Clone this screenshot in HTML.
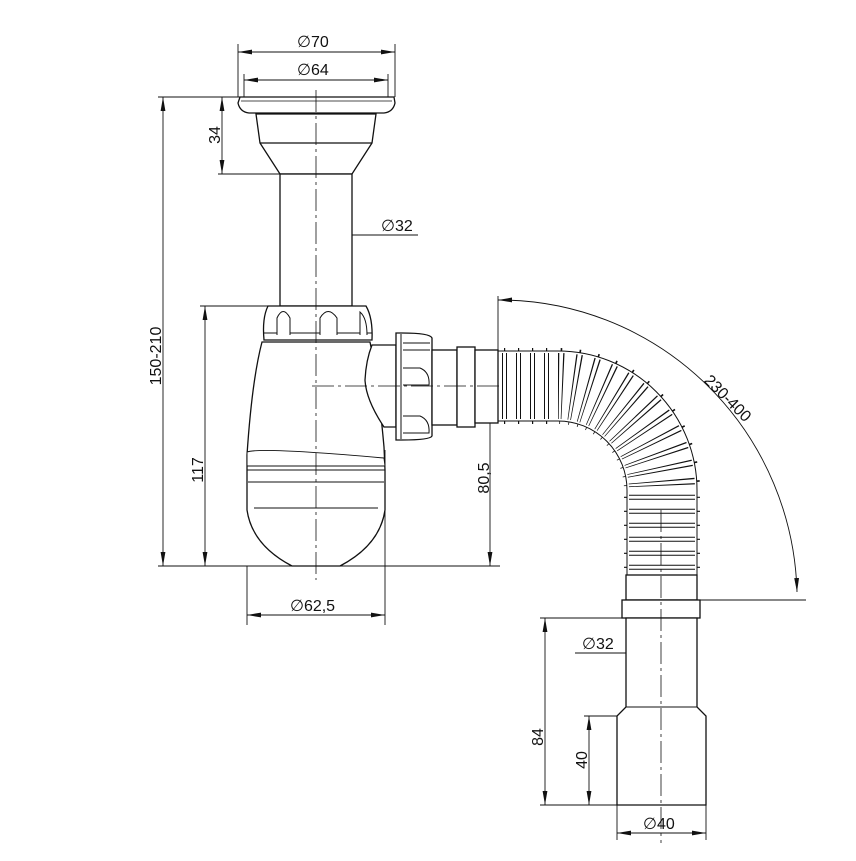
<!DOCTYPE html>
<html><head><meta charset="utf-8"><style>
html,body{margin:0;padding:0;background:#fff}
svg{display:block}
text{font-family:"Liberation Sans",sans-serif;font-size:16px;fill:#111}
</style></head><body>
<svg width="856" height="861" viewBox="0 0 856 861" xmlns="http://www.w3.org/2000/svg">
<defs>
<marker id="a" viewBox="0 0 14 6" refX="14" refY="3" markerWidth="14" markerHeight="6" markerUnits="userSpaceOnUse" orient="auto-start-reverse"><path d="M0,0.6 L14,3 L0,5.4 Z" fill="#111"/></marker>
</defs>
<g fill="none" stroke="#111" stroke-width="0.9">
<line x1="238" y1="44" x2="238" y2="97"/><line x1="395" y1="44" x2="395" y2="97"/>
<line x1="244" y1="74" x2="244" y2="97"/><line x1="388" y1="74" x2="388" y2="97"/>
<line x1="158" y1="97" x2="240" y2="97"/>
<line x1="218" y1="174" x2="280" y2="174"/>
<line x1="200" y1="306" x2="268" y2="306"/>
<line x1="158" y1="566" x2="500" y2="566"/>
<line x1="247" y1="566" x2="247" y2="625"/><line x1="385" y1="450" x2="385" y2="625"/>
<line x1="498" y1="296" x2="498" y2="350"/>
<line x1="486" y1="386" x2="498" y2="386"/>
<line x1="700" y1="600" x2="806" y2="600"/>
<line x1="540" y1="618" x2="622" y2="618"/>
<line x1="540" y1="805" x2="617" y2="805"/>
<line x1="584" y1="716" x2="617" y2="716"/>
<line x1="617" y1="805" x2="617" y2="840"/><line x1="706" y1="805" x2="706" y2="840"/>
<line x1="238" y1="52" x2="395" y2="52" marker-start="url(#a)" marker-end="url(#a)"/>
<line x1="244" y1="80" x2="388" y2="80" marker-start="url(#a)" marker-end="url(#a)"/>
<line x1="222" y1="97" x2="222" y2="174" marker-start="url(#a)" marker-end="url(#a)"/>
<line x1="280" y1="235" x2="352" y2="235" marker-start="url(#a)" marker-end="url(#a)"/>
<line x1="352" y1="235" x2="418" y2="235"/>
<line x1="163" y1="97" x2="163" y2="566" marker-start="url(#a)" marker-end="url(#a)"/>
<line x1="205" y1="306" x2="205" y2="566" marker-start="url(#a)" marker-end="url(#a)"/>
<line x1="490" y1="386" x2="490" y2="566" marker-start="url(#a)" marker-end="url(#a)"/>
<line x1="247" y1="615" x2="385" y2="615" marker-start="url(#a)" marker-end="url(#a)"/>
<path d="M498,300 A298,300 0 0 1 797,592" marker-start="url(#a)" marker-end="url(#a)"/>
<line x1="545" y1="618" x2="545" y2="805" marker-start="url(#a)" marker-end="url(#a)"/>
<line x1="589" y1="716" x2="589" y2="805" marker-start="url(#a)" marker-end="url(#a)"/>
<line x1="626" y1="653" x2="697" y2="653" marker-start="url(#a)" marker-end="url(#a)"/>
<line x1="575" y1="653" x2="626" y2="653"/>
<line x1="617" y1="833" x2="706" y2="833" marker-start="url(#a)" marker-end="url(#a)"/>
</g>

<!-- hose -->
<g fill="none">
<path d="M498,386 L558,386 A104,104 0 0 1 662,490 L662,576" stroke="#111" stroke-width="76" stroke-dasharray="1.2 12.8" stroke-dashoffset="-6"/>
<path d="M498,386 L558,386 A104,104 0 0 1 662,490 L662,576" stroke="#111" stroke-width="71"/>
<path d="M498,386 L558,386 A104,104 0 0 1 662,490 L662,576" stroke="#fff" stroke-width="69"/>
<path d="M498,386 L558,386 A104,104 0 0 1 662,490 L662,576" stroke="#111" stroke-width="66" stroke-dasharray="1 3 1 9" stroke-dashoffset="-4"/>
</g>

<g fill="#fff" stroke="#111" stroke-width="1.3">
<path d="M240,97 L394,97 L395,103 Q393,112 384,113 L249,113 Q240,112 238,103 Z"/>
<line x1="241" y1="101" x2="392" y2="101" stroke-width="0.8"/>
<path d="M256,114 L376,114 L372,143 L352,174 L280,174 L260,143 Z"/>
<line x1="260" y1="143" x2="372" y2="143"/>
<rect x="280" y="174" width="72" height="132"/>
<path d="M262,342 L370,342 Q378,380 384,447 L385,470 L385,510 Q380,545 340,566 L292,566 Q252,545 247,510 L247,455 Q252,380 262,342 Z"/>
<path d="M247,452 Q260,447 384,458 L385,466 L247,466 Z" stroke-width="1"/>
<line x1="247" y1="470" x2="385" y2="470" stroke-width="1"/>
<line x1="248" y1="482" x2="384" y2="482" stroke-width="0.9"/>
<line x1="254" y1="508" x2="378" y2="508" stroke-width="0.9"/>
<path d="M268,306 L366,306 Q373,318 372,340 L264,340 Q262,318 268,306 Z"/>
<line x1="264" y1="333" x2="372" y2="333" stroke-width="1"/>
<path d="M277,335 L277,318 Q283,305 290,318 L290,335" stroke-width="1"/>
<path d="M320,335 L320,318 Q328,305 337,318 L337,335" stroke-width="1"/>
<path d="M360,335 L360,312 Q367,318 367,335" stroke-width="1"/>
<path d="M372,345 L396,345 L396,427 L384,427 Q366,400 365,380 Q366,360 372,345 Z"/>
<path d="M396,333 L402,333 Q430,333 432,338 L432,436 Q430,440 402,440 L396,440 Z"/>
<line x1="401" y1="334" x2="401" y2="439" stroke-width="1"/>
<path d="M403,343 L430,343 M403,350 L430,350" stroke-width="0.9"/>
<path d="M403,368 L420,368 Q430,372 429,385 L403,385" stroke-width="1"/>
<path d="M403,416 L420,416 Q430,420 429,433 L403,433" stroke-width="1"/>
<rect x="432" y="350" width="25" height="75"/>
<rect x="457" y="347" width="18" height="80"/>
<rect x="475" y="350" width="23" height="73"/>
<rect x="626" y="575" width="71" height="25"/>
<rect x="622" y="600" width="78" height="18"/>
<path d="M626,618 L697,618 L697,707 L706,716 L706,805 L617,805 L617,716 L626,707 Z"/>
<line x1="626" y1="707" x2="697" y2="707" stroke-width="1"/>
</g>

<g stroke="#111" stroke-width="0.8" stroke-dasharray="22 4 3 4" fill="none">
<line x1="316" y1="90" x2="316" y2="580"/>
<line x1="312" y1="386" x2="500" y2="386"/>
<line x1="661" y1="510" x2="661" y2="843"/>
</g>

<text x="297" y="47">∅70</text>
<text x="297" y="75">∅64</text>
<text x="381" y="231">∅32</text>
<text x="290" y="611">∅62,5</text>
<text x="582" y="649">∅32</text>
<text x="643" y="829">∅40</text>
<text transform="translate(220,135) rotate(-90)" text-anchor="middle">34</text>
<text transform="translate(161,356) rotate(-90)" text-anchor="middle">150-210</text>
<text transform="translate(203,470) rotate(-90)" text-anchor="middle">117</text>
<text transform="translate(489,478) rotate(-90)" text-anchor="middle">80,5</text>
<text transform="translate(543,737) rotate(-90)" text-anchor="middle">84</text>
<text transform="translate(587,760) rotate(-90)" text-anchor="middle">40</text>
<text transform="translate(724,402) rotate(45)" text-anchor="middle">230-400</text>
</svg>
</body></html>
